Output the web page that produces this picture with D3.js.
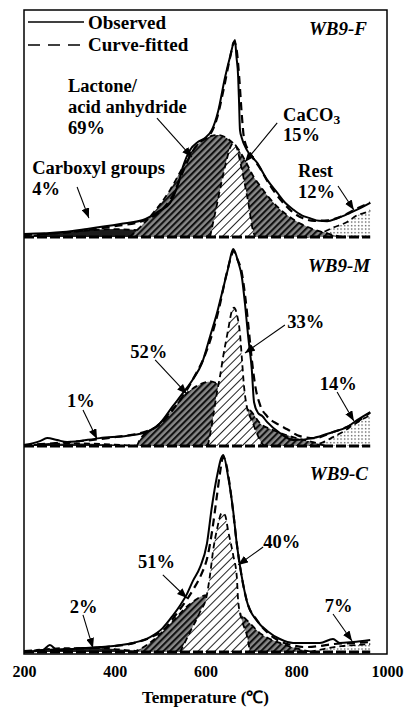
<!DOCTYPE html>
<html>
<head>
<meta charset="utf-8">
<script src="https://cdn.jsdelivr.net/npm/d3@7"></script>
<style>
  body { margin: 0; background: #fff; }
  svg text { font-family: "Liberation Serif", "Times New Roman", serif; font-weight: bold; fill: #000; }
</style>
</head>
<body>
<svg id="chart" width="406" height="707"></svg>
<script>
// ---------- data: temperature (°C) vs. normalised CO2 evolution (% of peak) ----------
const tickTemps = [200, 400, 600, 800, 1000];
const sampleNames = ["WB9-F", "WB9-M", "WB9-C"];
const componentNames = ["Carboxyl groups", "Lactone/acid anhydride", "CaCO3", "Rest"];

const pctF = [4, 69, 15, 12];
const pctM = [1, 52, 33, 14];
const pctC = [2, 51, 40, 7];

// WB9-F
const obsF = [[200,1.5],[286,2.5],[339,4.1],[412,6.6],[462,8.6],[500,13.5],[522,17.3],[539,26.4],[550,35.5],[566,44.2],[583,48.2],[599,50.3],[614,54.3],[628,64],[643,81],[654,91.4],[665,100],[668,92],[672,81.2],[674,68],[676,54.3],[680,50.3],[691,44.2],[714,37.6],[736,29],[758,22.5],[775,17.5],[793,14],[812,11],[830,9.6],[850,8.2],[868,8],[890,9.5],[918,12.2],[940,14.5],[963,17.3]];
const fitF = [[200,1],[300,2.5],[400,5.5],[460,8],[500,13],[530,22],[550,33],[570,43],[590,48.5],[610,52],[625,60],[640,75],[655,92],[663,99],[668,96],[674,82],[680,62],[685,50],[700,42],[720,35],[740,27],[765,19],[790,13],[815,9.5],[840,8.2],[870,8.5],[900,10.5],[930,14],[963,17.5]];
const carbF = [[200,0],[250,1.5],[300,2.5],[350,3.5],[400,4],[450,3.5],[500,2.5],[540,1.2],[580,0]];
const lactF = [[433,0],[456,5],[484,12],[522,23.9],[550,35.5],[572,44.2],[594,49.2],[614,51.3],[628,51.8],[643,50.8],[658,48.2],[669,45.7],[687,39],[705,31],[720,26],[740,20],[760,15],[793,9],[837,4],[874,1.5],[900,0]];
const caco3F = [[610,0],[617,7.6],[625,16.2],[634,26.4],[645,37.6],[654,45.2],[661,47.7],[669,45.2],[678,36.5],[687,26.4],[696,15.2],[702,6.1],[709,0]];
const restF = [[820,0],[850,1.5],[879,4.6],[912,7.6],[934,11],[956,12.7],[963,13.5]];

// WB9-M
const obsM = [[200,0.5],[235,2.5],[251,4],[273,3],[295,2],[367,4],[440,5.6],[471,7.1],[500,11.6],[528,20.2],[550,26.8],[572,33.8],[592,41.9],[610,55.6],[625,67.2],[636,77.3],[650,90.4],[661,100],[672,93.4],[680,85.9],[687,72.2],[694,55.6],[702,38.9],[707,22.2],[716,16.7],[725,15.2],[736,12.1],[764,6.6],[793,3],[837,4],[881,7.1],[912,9.6],[934,13.1],[963,17.2]];
const fitM = [[200,0.5],[300,2],[400,4.5],[470,7.5],[500,11],[530,19],[555,27],[575,35],[595,44],[615,57],[630,70],[645,86],[655,95],[662,99],[670,95],[680,88],[688,75],[695,60],[702,44],[710,30],[720,21],[736,15],[760,11],[780,8.5],[808,5],[840,4],[880,7],[910,9.5],[935,12.5],[963,17]];
const carbM = [[200,0],[250,1],[300,1.3],[350,1.2],[400,0.7],[450,0]];
const lactM = [[449,0],[456,3.5],[493,10.1],[528,18.7],[559,26.8],[588,31.3],[612,32.8],[625,31.8],[654,27.5],[680,22],[702,17.2],[720,11.6],[749,8.1],[793,4.5],[837,2],[865,0]];
const caco3M = [[605,0],[612,8.1],[619,18.2],[625,26.8],[632,35.4],[639,45.5],[650,59.1],[658,68.5],[663,70.2],[670,66],[676,57],[680,45],[685,30],[691,20],[702,13],[714,6],[722,2],[730,0]];
const restM = [[830,0],[860,2],[881,4.5],[905,7.5],[925,10.6],[945,13.5],[963,15.5]];

// WB9-C
const obsC = [[200,0],[242,1],[257,3.6],[273,1],[330,2],[367,2.5],[440,4.6],[478,7.6],[505,12],[528,18.5],[545,24],[559,29.4],[572,36],[588,43.1],[603,54.8],[614,73.6],[625,88.8],[639,100],[650,88.8],[661,71.6],[669,54.8],[680,38.1],[691,25.9],[714,15.7],[736,10.7],[764,6.6],[793,4.6],[852,4.6],[881,6.6],[896,4.6],[925,5.1],[963,6.1]];
const fitC = [[200,0.5],[300,1.5],[400,3],[450,5],[480,7.5],[515,13],[530,17.5],[560,27],[575,32.5],[590,39],[605,49],[615,62],[625,79],[632,91],[639,99],[645,96],[652,87],[661,71],[669,55],[680,38],[691,26],[714,16],[736,10],[764,5.5],[790,3.5],[820,2.5],[850,3],[880,4],[920,4.5],[963,5]];
const carbC = [[200,0],[250,1.5],[300,2],[350,2],[400,1.5],[450,0.5],[500,0]];
const lactC = [[440,0],[456,1.5],[493,7.6],[528,15.7],[566,24.4],[603,28.9],[620,29],[640,27],[660,23],[691,16.2],[720,9.6],[764,4.6],[815,1],[841,0]];
const caco3C = [[544,0],[566,10.2],[588,20.3],[603,28.9],[610,39.1],[617,51.8],[625,61.9],[636,70.6],[643,69.5],[650,61.4],[661,49.2],[669,38.1],[672,25.9],[680,16.2],[691,8.6],[698,0]];
const restC = [[830,0],[860,1.5],[900,3],[930,3.5],[963,4]];

// ---------- layout ----------
const frame = { left: 24, right: 387, top: 10, bottom: 654 };
const peakPx = 197;                 // pixel height of 100 %
const baselines = [237, 446, 652];  // zero line of each stacked panel
const serif = "Liberation Serif, Times New Roman, serif";
const noteSize = 18.5, noteLead = 20.6;

// annotation anchors, in data units (°C, %)
const notes = [
  [ // WB9-F
    { lines: ["Carboxyl groups", "{p}"], at: [218, 32], from: [317, 25.4], to: [343, 9.6] },
    { lines: ["Lactone/", "acid anhydride", "{p}"], at: [297, 73.4], from: [493, 60.4], to: [570, 40.6] },
    { lines: ["CaCO3", "{p}"], at: [771, 59], from: [758, 57.9], to: [687, 38.1] },
    { lines: ["Rest", "{p}"], at: [804, 30.5], from: [892, 25.9], to: [927, 13.7] }
  ],
  [ // WB9-M
    { lines: ["{p}"], at: [295, 19.8], from: [330, 18.3], to: [361, 3.6] },
    { lines: ["{p}"], at: [434, 44.7], from: [489, 43.7], to: [559, 26.4] },
    { lines: ["{p}"], at: [780, 59.9], from: [775, 61.4], to: [687, 47.2] },
    { lines: ["{p}"], at: [852, 28.4], from: [890, 27.4], to: [927, 12.7] }
  ],
  [ // WB9-C
    { lines: ["{p}"], at: [301, 19.8], from: [330, 18.8], to: [352, 2.0] },
    { lines: ["{p}"], at: [451, 42.6], from: [506, 39.1], to: [559, 27.4] },
    { lines: ["{p}"], at: [727, 52.8], from: [727, 53.3], to: [672, 44.2] },
    { lines: ["{p}"], at: [863, 20.3], from: [881, 19.3], to: [923, 5.6] }
  ]
];
const namePos = [[956, 102.5], [963, 88.3], [958, 87.3]];

const panels = [
  { obs: obsF, fit: fitF, comps: [carbF, lactF, caco3F, restF], pct: pctF },
  { obs: obsM, fit: fitM, comps: [carbM, lactM, caco3M, restM], pct: pctM },
  { obs: obsC, fit: fitC, comps: [carbC, lactC, caco3C, restC], pct: pctC }
];

const svg = d3.select("#chart");
const x = d3.scaleLinear().domain([200, 1000]).range([frame.left, frame.right]);

// ---------- fill patterns ----------
const defs = svg.append("defs");
const pl = defs.append("pattern").attr("id", "hatchDark").attr("patternUnits", "userSpaceOnUse")
  .attr("width", 4.6).attr("height", 4.6).attr("patternTransform", "rotate(45)");
pl.append("rect").attr("width", 4.6).attr("height", 4.6).attr("fill", "#888");
pl.append("rect").attr("width", 2.1).attr("height", 4.6).attr("fill", "#111");

const pc = defs.append("pattern").attr("id", "hatchLight").attr("patternUnits", "userSpaceOnUse")
  .attr("width", 6).attr("height", 6).attr("patternTransform", "rotate(45)");
pc.append("rect").attr("width", 6).attr("height", 6).attr("fill", "#fff");
pc.append("rect").attr("width", 1).attr("height", 6).attr("fill", "#222");

const pr = defs.append("pattern").attr("id", "dots").attr("patternUnits", "userSpaceOnUse")
  .attr("width", 3.5).attr("height", 3.5);
pr.append("rect").attr("width", 3.5).attr("height", 3.5).attr("fill", "#fff");
pr.append("rect").attr("x", 1).attr("y", 1).attr("width", 1.2).attr("height", 1.2).attr("fill", "#222");

defs.append("marker").attr("id", "head").attr("markerUnits", "userSpaceOnUse")
  .attr("viewBox", "0 0 10 8").attr("refX", 10).attr("refY", 4)
  .attr("markerWidth", 10).attr("markerHeight", 8).attr("orient", "auto")
  .append("path").attr("d", "M0,0L10,4L0,8Z").attr("fill", "#000");

const compFill = ["#1c1c1c", "url(#hatchDark)", "url(#hatchLight)", "url(#dots)"];
const drawOrder = [3, 0, 1, 2];

// ---------- panels ----------
panels.forEach((p, i) => {
  const base = baselines[i];
  const y = d3.scaleLinear().domain([0, 100]).range([base, base - peakPx]);
  const g = svg.append("g");
  const area = d3.area().x(d => x(d[0])).y0(y(0)).y1(d => y(d[1])).curve(d3.curveMonotoneX);
  const line = d3.line().x(d => x(d[0])).y(d => y(d[1])).curve(d3.curveMonotoneX);

  drawOrder.forEach(k => {
    g.append("path").attr("d", area(p.comps[k])).attr("fill", compFill[k]).attr("stroke", "none");
    g.append("path").attr("d", line(p.comps[k])).attr("fill", "none")
      .attr("stroke", "#000").attr("stroke-width", 1.8).attr("stroke-dasharray", "6,4");
  });

  // zero line of the fitted components
  g.append("path").attr("d", line([[200, 0], [963, 0]])).attr("fill", "none")
    .attr("stroke", "#000").attr("stroke-width", 3.2).attr("stroke-dasharray", "10,3");

  g.append("path").attr("d", line(p.fit)).attr("fill", "none")
    .attr("stroke", "#000").attr("stroke-width", 2.2).attr("stroke-dasharray", "8,5");
  g.append("path").attr("d", line(p.obs)).attr("fill", "none")
    .attr("stroke", "#000").attr("stroke-width", 2);

  // sample name
  g.append("text").attr("x", x(namePos[i][0])).attr("y", y(namePos[i][1]))
    .attr("text-anchor", "end").attr("font-family", serif).attr("font-weight", "bold")
    .attr("font-style", "italic").attr("font-size", 19)
    .text(sampleNames[i]);

  // component annotations (one text block per component)
  notes[i].forEach((n, k) => {
    const t = g.append("text").attr("x", x(n.at[0])).attr("y", y(n.at[1]))
      .attr("font-family", serif).attr("font-weight", "bold").attr("font-size", noteSize);
    let carry = 0;
    n.lines.forEach((ln, j) => {
      const s = ln === "{p}" ? p.pct[k] + "%" : ln;
      const dy = (j ? noteLead : 0) - carry;
      carry = 0;
      if (s === "CaCO3") {
        t.append("tspan").attr("x", x(n.at[0])).attr("dy", dy).text("CaCO");
        t.append("tspan").attr("font-size", 13.5).attr("dy", 3).text("3");
        carry = 3;
      } else {
        t.append("tspan").attr("x", x(n.at[0])).attr("dy", dy).text(s);
      }
    });
    g.append("line").attr("x1", x(n.from[0])).attr("y1", y(n.from[1]))
      .attr("x2", x(n.to[0])).attr("y2", y(n.to[1]))
      .attr("stroke", "#000").attr("stroke-width", 1.1).attr("marker-end", "url(#head)");
  });
});

// ---------- frame ----------
svg.append("rect").attr("x", frame.left).attr("y", frame.top)
  .attr("width", frame.right - frame.left).attr("height", frame.bottom - frame.top)
  .attr("fill", "none").attr("stroke", "#000").attr("stroke-width", 1.5);

// ---------- x axis ----------
const axis = svg.append("g").attr("transform", `translate(0,${frame.bottom})`)
  .call(d3.axisBottom(x).tickValues(tickTemps).tickSize(0).tickPadding(12).tickFormat(d3.format("d")));
axis.select(".domain").remove();
axis.attr("font-family", serif).attr("font-size", 16);
axis.selectAll("text").attr("font-size", 16).attr("font-family", serif)
  .attr("font-weight", "bold").attr("fill", "#000");

svg.append("text").attr("x", (frame.left + frame.right) / 2).attr("y", 703)
  .attr("text-anchor", "middle").attr("font-family", serif).attr("font-weight", "bold")
  .attr("font-size", 17).text("Temperature (℃)");

// ---------- legend ----------
const lg = svg.append("g");
lg.append("line").attr("x1", 28).attr("x2", 84).attr("y1", 22).attr("y2", 22)
  .attr("stroke", "#000").attr("stroke-width", 1.6);
lg.append("line").attr("x1", 28).attr("x2", 84).attr("y1", 45).attr("y2", 45)
  .attr("stroke", "#000").attr("stroke-width", 1.6).attr("stroke-dasharray", "12,8");
lg.append("text").attr("x", 88).attr("y", 29).attr("font-family", serif).attr("font-weight", "bold")
  .attr("font-size", 19).text("Observed");
lg.append("text").attr("x", 88).attr("y", 51).attr("font-family", serif).attr("font-weight", "bold")
  .attr("font-size", 19).text("Curve-fitted");
</script>
</body>
</html>
